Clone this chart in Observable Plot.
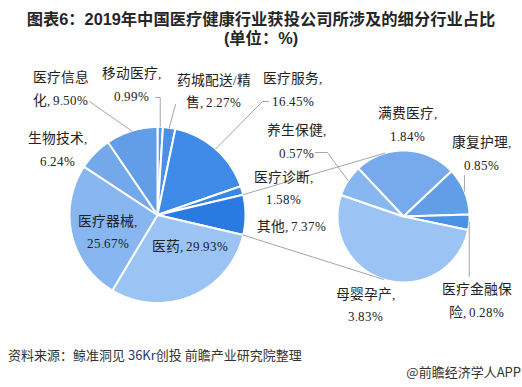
<!DOCTYPE html>
<html><head><meta charset="utf-8">
<script src="https://cdn.jsdelivr.net/npm/d3@7"></script>
<script src="https://cdn.jsdelivr.net/npm/@observablehq/plot@0.6"></script>
<style>
@font-face { font-family: "LblLatin"; src: local("Liberation Serif"), local("LiberationSerif"), local("Liberation Serif Regular"); unicode-range: U+0000-00FF; size-adjust: 100%; }
@font-face { font-family: "LblCJK"; src: local("Noto Sans CJK SC Regular"), local("NotoSansCJKsc-Regular"), local("Noto Sans CJK SC"); size-adjust: 106%; }
html, body { margin:0; padding:0; background:#fff; }
body { width:522px; height:387px; overflow:hidden; position:relative; font-family:"Noto Sans CJK SC", sans-serif; }
#title { height:50px; box-sizing:border-box; padding-top:10px; text-align:center; font-family:"Liberation Sans","Noto Sans CJK SC",sans-serif; font-weight:bold; font-size:16.3px; line-height:19px; color:#262626; }
#chart { height:290px; }
#chart svg { display:block; }
#source { position:absolute; left:8px; top:345px; font-size:13px; line-height:20px; color:#333; white-space:nowrap; }
#source .kr { color:#1f3a68; }
#brand { position:absolute; right:1px; top:362px; font-size:13px; line-height:20px; color:#333; white-space:nowrap; }
</style>
</head><body>
<div id="title">图表6：2019年中国医疗健康行业获投公司所涉及的细分行业占比<br>(单位：%)</div>
<div id="chart"></div>
<div id="source">资料来源：鲸准洞见 <span class="kr">36Kr</span>创投 前瞻产业研究院整理</div>
<div id="brand">@前瞻经济学人APP</div>
<script>
// ---- data ----
const mainNames  = ["移动医疗","药城配送/精售","医疗服务","医疗诊断","其他","医药","医疗器械","生物技术","医疗信息化"];
const mainValues = [0.99, 2.27, 16.45, 1.58, 7.37, 29.93, 25.67, 6.24, 9.50];
const subNames   = ["满费医疗","康复护理","医疗金融保险","母婴孕产","养生保健"];
const subValues  = [1.84, 0.85, 0.28, 3.83, 0.57];

// ---- styles ----
const mainColors = ["#5597e8","#4a90e6","#3e8ae6","#3a86e4","#2a7ae2","#9bc4f5","#87b6f0","#73a8eb","#629de8"];
const subColors  = ["#76aaec","#629de8","#4b91e6","#9bc4f5","#87b6f0"];

// ---- layout (page coordinates) ----
const MAIN = {cx:157, cy:214.5, r:88, start:0};
const SUB  = {cx:403, cy:216, r:66, start:-43.2};
const OTHER_INDEX = 4;
// label block centers and line break index
const labelLayout = {
  "医疗信息化":[60,86,4], "移动医疗":[131,82,5], "药城配送/精售":[213,88.5,6], "医疗服务":[292,87,5],
  "医疗诊断":[283,185.5,5], "其他":[291,223,null], "医药":[189,243,null], "医疗器械":[107,229.5,5],
  "生物技术":[57,147,5], "满费医疗":[407,122,5], "康复护理":[481,151,5], "医疗金融保险":[476,298,5],
  "母婴孕产":[365,302.5,5], "养生保健":[296,139,5]
};
// leader polylines (start points); the last point is the slice edge at its mid angle
const leaderLayout = {
  "医疗信息化":[[89,101]], "移动医疗":[[155,97],["edge",97]], "药城配送/精售":[[175,104]],
  "医疗服务":[[268,101],[262,101]], "康复护理":[["edge",175]], "医疗金融保险":[["edge",276]],
  "养生保健":[[315,152],[327,152]]
};

function buildSlices(names, values, colors, P) {
  const s0 = P.start * Math.PI / 180;
  const arcs = d3.pie().sort(null).value(d => d).startAngle(s0).endAngle(s0 + 2*Math.PI)(values);
  return arcs.map((a, i) => {
    const pts = [[P.cx, P.cy]];
    const n = Math.max(2, Math.ceil((a.endAngle - a.startAngle) / (Math.PI/360)));
    for (let k = 0; k <= n; k++) {
      const t = a.startAngle + (a.endAngle - a.startAngle) * k / n;
      pts.push([P.cx + P.r*Math.sin(t), P.cy - P.r*Math.cos(t)]);
    }
    pts.push([P.cx, P.cy]);
    const mid = (a.startAngle + a.endAngle) / 2;
    return {name: names[i], value: values[i], color: colors[i], pts, a,
            edge: [P.cx + P.r*Math.sin(mid), P.cy - P.r*Math.cos(mid)]};
  });
}
const mainSlices = buildSlices(mainNames, mainValues, mainColors, MAIN);
const subSlices  = buildSlices(subNames, subValues, subColors, SUB);
const allSlices = mainSlices.concat(subSlices);

// connectors: tangents from the "其他" slice edges to the secondary pie
function edgeAt(P, t) { return [P.cx + P.r*Math.sin(t), P.cy - P.r*Math.cos(t)]; }
function tangent(p, P, sign) {
  const dx = p[0]-P.cx, dy = p[1]-P.cy, d = Math.hypot(dx, dy);
  const theta = Math.atan2(dx, -dy), alpha = Math.acos(P.r/d);
  return edgeAt(P, theta + sign*alpha);
}
const other = mainSlices[OTHER_INDEX];
const upP = edgeAt(MAIN, other.a.startAngle), loP = edgeAt(MAIN, other.a.endAngle);
const upT = tangent(upP, SUB, 1), loT = tangent(loP, SUB, -1);
const connectors = [
  {id:"up", x:upP[0], y:upP[1]}, {id:"up", x:upT[0], y:upT[1]},
  {id:"lo", x:loP[0], y:loP[1]}, {id:"lo", x:loT[0], y:loT[1]}
];

const leaders = [];
for (const s of allSlices) {
  const L = leaderLayout[s.name];
  if (!L) continue;
  for (const p of L) leaders.push({id:s.name, x: p[0] === "edge" ? s.edge[0] : p[0], y: p[1]});
  leaders.push({id:s.name, x:s.edge[0], y:s.edge[1]});
}

const labels = allSlices.map(s => {
  const [x, y, brk] = labelLayout[s.name];
  const full = `${s.name}, ${s.value.toFixed(2)}%`;
  const text = brk == null ? full : full.slice(0, brk) + "\n" + full.slice(brk).trim();
  return {x, y, text};
});

const chart = Plot.plot({
  width: 522, height: 290, margin: 0,
  x: {domain:[0,522], range:[0,522], axis:null},
  y: {domain:[50,340], range:[0,290], axis:null},
  style: {background:"#fff", overflow:"visible"},
  marks: [
    ...allSlices.map(s => Plot.line(s.pts, {x: d => d[0], y: d => d[1], fill: s.color, stroke: "#fff", strokeWidth: 2, strokeLinejoin: "round"})),
    Plot.line(connectors, {x:"x", y:"y", z:"id", stroke:"#a6a6a6", strokeWidth:1}),
    Plot.line(leaders, {x:"x", y:"y", z:"id", stroke:"#a6a6a6", strokeWidth:1}),
    Plot.text(labels, {x:"x", y:"y", text:"text", fontSize:13, lineHeight:1.73, fill:"#222",
      fontFamily:"LblLatin, LblCJK, 'Liberation Serif', 'Noto Sans CJK SC', serif"})
  ]
});
document.getElementById("chart").appendChild(chart);
</script>
</body></html>
